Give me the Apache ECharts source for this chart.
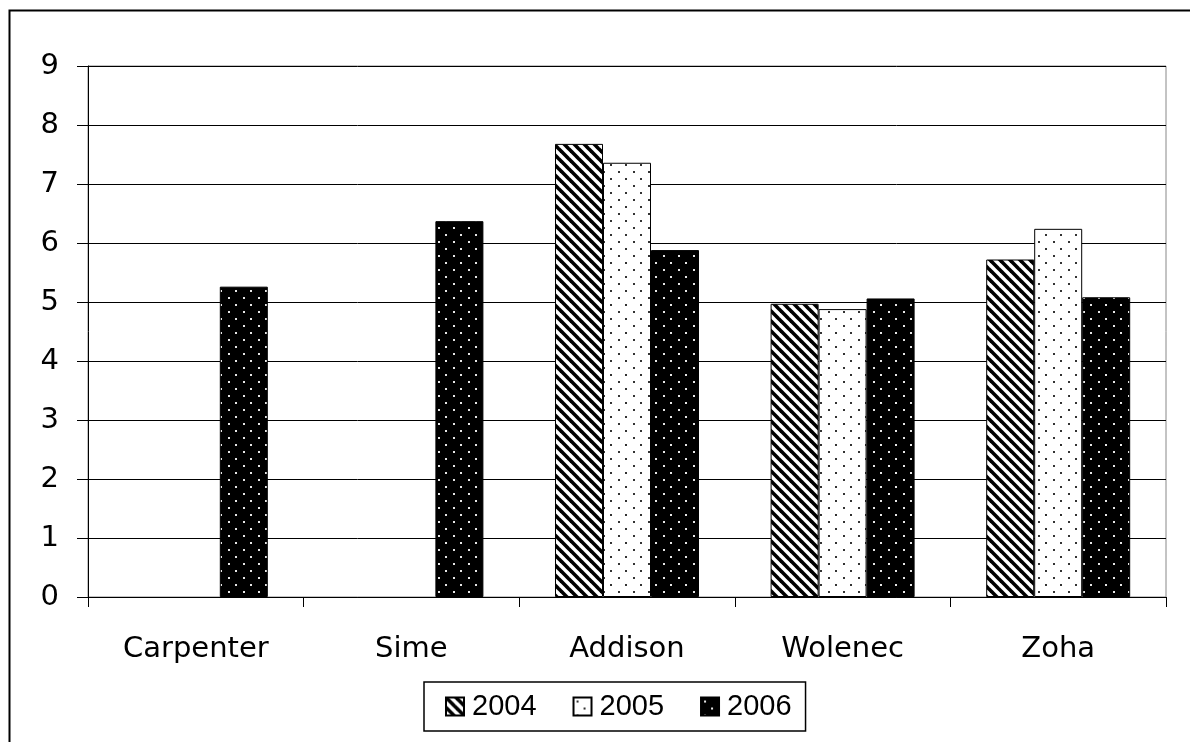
<!DOCTYPE html>
<html>
<head>
<meta charset="utf-8">
<script src="https://cdn.jsdelivr.net/npm/echarts@6/dist/echarts.min.js"></script>
<style>
  html, body { margin: 0; padding: 0; background: #fff; }
  #chart { width: 1190px; height: 742px; }
</style>
</head>
<body>
<div id="chart"></div>
<script>
// Scores per person and year
const categories = ['Carpenter', 'Sime', 'Addison', 'Wolenec', 'Zoha'];
const years = ['2004', '2005', '2006'];
const values2004 = [null, null, 7.68, 4.97, 5.72];
const values2005 = [null, null, 7.36, 4.88, 6.24];
const values2006 = [5.26, 6.37, 5.88, 5.06, 5.08];
const yTicks = [0, 1, 2, 3, 4, 5, 6, 7, 8, 9];

// Small repeating tiles used as bar fills
function makeTile(w, h, draw) {
  const c = document.createElement('canvas');
  c.width = w; c.height = h;
  draw(c.getContext('2d'), w, h);
  return c;
}
const stripeTile = makeTile(10, 10, (g, w, h) => {
  g.fillStyle = '#fff'; g.fillRect(0, 0, w, h);
  g.strokeStyle = '#000'; g.lineWidth = 3.6;
  for (const c of [-w, 0, w]) {
    g.beginPath(); g.moveTo(-w, c - w); g.lineTo(2 * w, c + 2 * w); g.stroke();
  }
});
function dotTile(bg, dot) {
  return makeTile(15, 14, (g, w, h) => {
    g.fillStyle = bg; g.fillRect(0, 0, w, h);
    g.fillStyle = dot;
    g.fillRect(3, 3, 2, 2);
    g.fillRect(10, 10, 2, 2);
  });
}
const lightDots = dotTile('#fff', '#333');
const darkDots = dotTile('#000', '#e6e6e6');

const fills = [stripeTile, lightDots, darkDots];
const seriesValues = [values2004, values2005, values2006];

const axisFont = { fontFamily: 'DejaVu Sans', fontSize: 29, color: '#000' };

const chart = echarts.init(document.getElementById('chart'), null, { renderer: 'canvas' });
chart.setOption({
  animation: false,
  backgroundColor: '#fff',
  graphic: [{
    type: 'rect',
    left: 7, top: 8,
    shape: { width: 1400, height: 1000 },
    style: { fill: 'none', stroke: '#000', lineWidth: 2 },
    silent: true
  }],
  grid: {
    left: 88, right: 24, top: 66, bottom: 145,
    show: true, borderColor: '#888', borderWidth: 1, backgroundColor: 'transparent'
  },
  legend: {
    data: years,
    left: 424, top: 682,
    itemWidth: 18, itemHeight: 18, itemGap: 36,
    icon: 'rect',
    borderColor: '#000', borderWidth: 1.5,
    padding: [10, 14, 10, 21],
    textStyle: { fontFamily: 'Liberation Sans', fontSize: 29, color: '#000', padding: [0, 0, 0, 3] }
  },
  xAxis: {
    type: 'category',
    data: categories,
    axisLine: { show: true, lineStyle: { color: '#000', width: 1 } },
    axisTick: { show: true, interval: 0, length: 10, lineStyle: { color: '#000' } },
    axisLabel: Object.assign({ margin: 38, interval: 0 }, axisFont),
    splitLine: { show: false }
  },
  yAxis: {
    type: 'value',
    min: yTicks[0], max: yTicks[yTicks.length - 1], interval: 1,
    axisLine: { show: true, lineStyle: { color: '#000', width: 1 } },
    axisTick: { show: true, length: 11, lineStyle: { color: '#000' } },
    axisLabel: Object.assign({ margin: 29 }, axisFont),
    splitLine: { show: true, lineStyle: { color: '#000', width: 1 } }
  },
  series: years.map((y, i) => ({
    name: y,
    type: 'bar',
    data: seriesValues[i],
    barWidth: 48,
    barGap: '0%',
    itemStyle: {
      color: { image: fills[i], repeat: 'repeat' },
      borderColor: '#000',
      borderWidth: 1
    },
    emphasis: { disabled: true }
  }))
});
</script>
</body>
</html>
